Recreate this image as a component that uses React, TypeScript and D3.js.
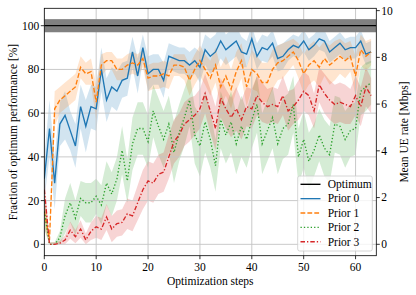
import React, { useEffect, useRef } from 'react';
import * as d3 from 'd3';

const W = 416, H = 295;
const X0 = 44.3, X1 = 376.3, Y0 = 255.7, Y1 = 8.3;
const FONT = '"Liberation Serif", "Times New Roman", serif';
const FS = '11.5px';

const xTicks = [0, 10, 20, 30, 40, 50, 60];
const yTicks = [0, 20, 40, 60, 80, 100];
const rateTicks = [0, 2, 4, 6, 8, 10];

const OPT = 100;
const OPT_LO = 97, OPT_HI = 103;

// mean fraction of optimum [%] per optimization step (0..63)
const prior0 = [30, 53, 28, 55, 59, 52, 45, 63, 54, 63, 62, 80, 66, 72, 70, 75, 76, 88, 77, 90, 78, 80, 80, 75, 86, 85, 84, 84, 82, 84, 81, 89, 86, 88, 93, 89, 91, 93, 88, 87, 94, 86, 90, 89, 92, 85, 86, 89, 91, 90, 93, 89, 91, 94, 93, 88, 90, 92, 89, 90, 90, 93, 87, 88];
const prior1 = [15, 2, 62, 66, 68, 70, 72, 81, 78, 79, 65, 82, 84, 84, 80, 80, 82, 83, 82, 85, 76, 77, 77, 78, 77, 82, 82, 81, 75, 80, 84, 80, 76, 82, 72, 77, 71, 79, 84, 72, 80, 78, 74, 74, 80, 83, 84, 86, 88, 84, 78, 82, 84, 81, 85, 82, 84, 86, 84, 86, 77, 89, 86, 88];
const prior2 = [15, 0, 0, 3, 13, 19, 12, 21, 19, 19, 22, 18, 28, 23, 30, 43, 29, 46, 53, 53, 47, 61, 54, 48, 55, 42, 51, 58, 66, 50, 45, 56, 48, 36, 57, 50, 56, 46, 54, 48, 57, 64, 46, 52, 58, 46, 53, 55, 64, 40, 48, 38, 43, 50, 44, 41, 55, 54, 48, 52, 53, 70, 72, 74];
const prior3 = [25, 0, 0, 0.5, 2, 6.5, 3.5, 7, 2, 6, 8, 7, 12.5, 7, 9.5, 10, 14, 13, 19, 25, 29, 28, 32, 33, 40, 47, 50, 55, 57, 59, 62, 69, 61, 53, 67, 62, 58, 62, 57, 63, 62, 68, 65, 63, 64, 63, 68, 61, 63, 66, 70, 68, 61, 73, 69, 66, 64, 65, 64, 63, 68, 63, 72, 68];

// half width of the shaded band
const spread0 = [10, 13, 12, 10, 11, 9, 10, 10, 12, 10, 10, 10, 10, 9, 9, 8, 8, 7, 8, 6, 8, 7, 7, 8, 6, 6, 6, 6, 6, 6, 7, 7, 8, 8, 8, 7, 7, 7, 7, 6, 6, 6, 6, 6, 6, 6, 6, 5, 5, 5, 5, 5, 5, 5, 5, 5, 5, 5, 5, 5, 5, 5, 5, 5];
const spread1 = [8, 3, 8, 6, 6, 6, 6, 5, 5, 6, 8, 5, 4, 4, 5, 5, 5, 5, 5, 4, 6, 6, 6, 6, 6, 5, 5, 6, 7, 7, 7, 7, 8, 8, 9, 9, 9, 9, 8, 9, 9, 8, 9, 9, 9, 8, 8, 7, 6, 8, 9, 9, 9, 9, 8, 9, 9, 8, 8, 7, 9, 7, 7, 6];
const spread2 = [8, 1, 1, 3, 8, 9, 8, 8, 9, 9, 8, 9, 10, 10, 10, 11, 10, 12, 12, 12, 12, 12, 13, 13, 13, 14, 13, 13, 12, 13, 14, 14, 13, 12, 13, 13, 14, 14, 14, 13, 13, 13, 14, 14, 14, 14, 14, 14, 13, 13, 13, 13, 12, 12, 13, 13, 13, 13, 13, 12, 12, 11, 11, 10];
const spread3 = [8, 1, 1, 1, 2, 4, 3, 4, 3, 4, 5, 5, 6, 6, 6, 6, 7, 7, 8, 9, 9, 9, 9, 9, 10, 10, 10, 10, 10, 9, 9, 9, 10, 10, 9, 9, 9, 10, 9, 9, 9, 9, 9, 8, 8, 8, 9, 9, 8, 9, 9, 9, 8, 8, 9, 9, 9, 9, 9, 8, 9, 9, 9, 8];

const SERIES = [
  { name: 'Prior 0', mean: prior0, spread: spread0, color: '#1f77b4', dash: null },
  { name: 'Prior 1', mean: prior1, spread: spread1, color: '#ff7f0e', dash: '4.8,2.1' },
  { name: 'Prior 2', mean: prior2, spread: spread2, color: '#2ca02c', dash: '1.3,2.1' },
  { name: 'Prior 3', mean: prior3, spread: spread3, color: '#d62728', dash: '4.5,2,1.3,2' },
];

export default function App() {
  const ref = useRef<SVGSVGElement | null>(null);

  useEffect(() => {
    const svg = d3.select(ref.current);
    svg.selectAll('*').remove();

    const x = d3.scaleLinear().domain([0, 64]).range([X0, X1]);
    const y = d3.scaleLinear().domain([-5.2, 107.96]).range([Y0, Y1]);
    const yR = d3.scaleLinear().domain([-0.488, 10.1]).range([Y0, Y1]);

    svg.append('rect').attr('width', W).attr('height', H).attr('fill', '#fff');

    const clip = svg.append('defs').append('clipPath').attr('id', 'plot');
    clip.append('rect').attr('x', X0).attr('y', Y1).attr('width', X1 - X0).attr('height', Y0 - Y1);
    const g = svg.append('g').attr('clip-path', 'url(#plot)');

    // bands
    SERIES.forEach(s => {
      const area = d3.area<number>()
        .x((_, i) => x(i))
        .y0((d, i) => y(Math.max(0, d - s.spread[i])))
        .y1((d, i) => y(d + s.spread[i]));
      g.append('path').attr('d', area(s.mean)).attr('fill', s.color).attr('fill-opacity', 0.2);
    });

    // grid
    xTicks.forEach(t => g.append('line').attr('x1', x(t)).attr('x2', x(t)).attr('y1', Y1).attr('y2', Y0)
      .attr('stroke', '#c4c4c4').attr('stroke-width', 0.9));
    yTicks.forEach(t => g.append('line').attr('x1', X0).attr('x2', X1).attr('y1', y(t)).attr('y2', y(t))
      .attr('stroke', '#c4c4c4').attr('stroke-width', 0.9));

    // optimum
    g.append('rect').attr('x', X0).attr('width', X1 - X0)
      .attr('y', y(OPT_HI)).attr('height', y(OPT_LO) - y(OPT_HI)).attr('fill', '#808080');
    g.append('line').attr('x1', X0).attr('x2', X1).attr('y1', y(OPT)).attr('y2', y(OPT))
      .attr('stroke', '#000').attr('stroke-width', 1.3);

    // lines
    SERIES.forEach(s => {
      const line = d3.line<number>().x((_, i) => x(i)).y(d => y(d));
      g.append('path').attr('d', line(s.mean)).attr('fill', 'none')
        .attr('stroke', s.color).attr('stroke-width', 1.35)
        .attr('stroke-dasharray', s.dash);
    });

    // frame
    svg.append('rect').attr('x', X0).attr('y', Y1).attr('width', X1 - X0).attr('height', Y0 - Y1)
      .attr('fill', 'none').attr('stroke', '#000').attr('stroke-width', 0.8);

    const txt = (sel: any) => sel.attr('font-family', FONT).attr('font-size', FS).attr('fill', '#000');

    xTicks.forEach(t => {
      svg.append('line').attr('x1', x(t)).attr('x2', x(t)).attr('y1', Y0).attr('y2', Y0 + 3.5).attr('stroke', '#000').attr('stroke-width', 0.8);
      svg.append('text').call(txt).attr('x', x(t)).attr('y', Y0 + 15.3).attr('text-anchor', 'middle').text(t);
    });
    yTicks.forEach(t => {
      svg.append('line').attr('x1', X0 - 3.5).attr('x2', X0).attr('y1', y(t)).attr('y2', y(t)).attr('stroke', '#000').attr('stroke-width', 0.8);
      svg.append('text').call(txt).attr('x', X0 - 5).attr('y', y(t) + 3.9).attr('text-anchor', 'end').text(t);
    });
    rateTicks.forEach(t => {
      svg.append('line').attr('x1', X1).attr('x2', X1 + 3.5).attr('y1', yR(t)).attr('y2', yR(t)).attr('stroke', '#000').attr('stroke-width', 0.8);
      svg.append('text').call(txt).attr('x', X1 + 5).attr('y', yR(t) + 3.9).attr('text-anchor', 'start').text(t);
    });

    svg.append('text').call(txt).attr('x', (X0 + X1) / 2).attr('y', 284.5).attr('text-anchor', 'middle').text('Optimization steps');
    svg.append('text').call(txt).attr('transform', `translate(16.5,${(Y0 + Y1) / 2}) rotate(-90)`)
      .attr('text-anchor', 'middle').text('Fraction of optimum performance [%]');
    svg.append('text').call(txt).attr('transform', `translate(408,${(Y0 + Y1) / 2}) rotate(-90)`)
      .attr('text-anchor', 'middle').text('Mean UE rate [Mbps]');

    // legend
    const lg = svg.append('g');
    lg.append('rect').attr('x', 297.7).attr('y', 176).attr('width', 74.6).attr('height', 75).attr('rx', 2)
      .attr('fill', '#fff').attr('fill-opacity', 0.8).attr('stroke', '#cccccc').attr('stroke-width', 0.8);
    const items = [{ name: 'Optimum', color: '#000', dash: null }, ...SERIES];
    items.forEach((it, i) => {
      const cy = 184.3 + i * 14.35;
      lg.append('line').attr('x1', 300.5).attr('x2', 320.5).attr('y1', cy).attr('y2', cy)
        .attr('stroke', it.color).attr('stroke-width', 1.35).attr('stroke-dasharray', it.dash);
      lg.append('text').call(txt).attr('x', 327.7).attr('y', cy + 3.8).text(it.name);
    });
  }, []);

  return (
    <svg ref={ref} width={W} height={H} style={{ position: 'absolute', left: 0, top: 0 }} />
  );
}
